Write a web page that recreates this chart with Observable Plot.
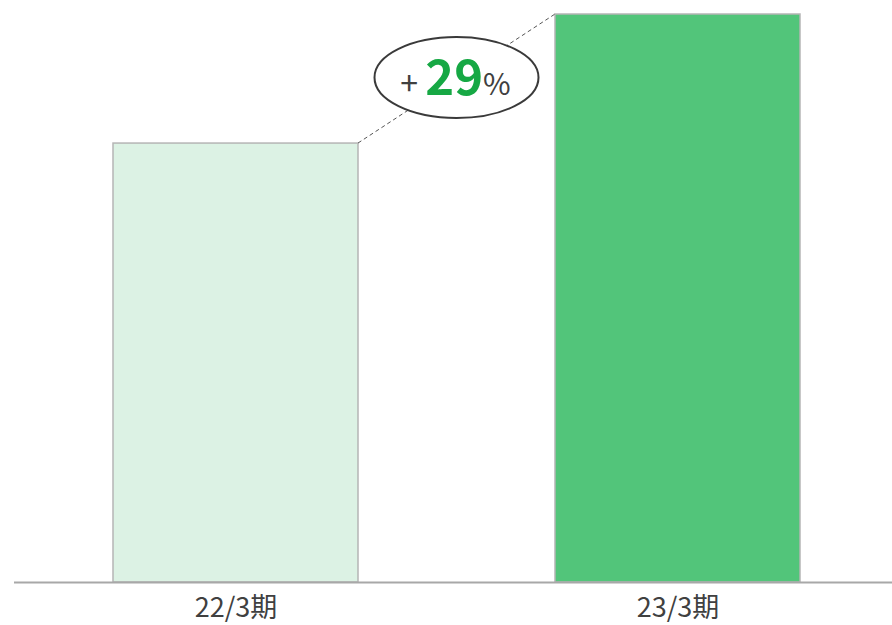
<!DOCTYPE html>
<html>
<head>
<meta charset="utf-8">
<script src="https://cdn.jsdelivr.net/npm/d3@7"></script>
<script src="https://cdn.jsdelivr.net/npm/@observablehq/plot@0.6"></script>
<style>
  html, body { margin: 0; padding: 0; background: #fff; }
  #chart { width: 892px; height: 625px; }
</style>
</head>
<body>
<div id="chart"></div>
<script>
const periods = ["22/3期", "23/3期"];
const values = [100, 129.4];
const barFills = ["#dcf2e4", "#52c57a"];
const growthPct = 29;

const data = periods.map((p, i) => ({period: p, value: values[i], fill: barFills[i]}));

const font = "'Noto Sans CJK JP', 'Noto Sans', sans-serif";

const plot = Plot.plot({
  width: 892,
  height: 625,
  marginTop: 14,
  marginBottom: 43,
  marginLeft: 14,
  marginRight: 0,
  style: {fontFamily: font, background: "#fff"},
  x: {domain: periods, paddingInner: 0.446, paddingOuter: 0.214, align: 0.517, label: null},
  y: {domain: [0, 129.4], axis: null},
  marks: [
    Plot.barY(data, {x: "period", y: "value", fill: "fill", stroke: "#b5b5b5", strokeWidth: 1.5, insetLeft: 0, insetRight: 0}),
    Plot.ruleY([0], {stroke: "#a8a8a8", strokeWidth: 2}),
    Plot.axisX({tickSize: 0, tickPadding: 15, fontSize: 27, fill: "#404040", label: null})
  ]
});

document.getElementById("chart").appendChild(plot);

// annotation: dashed connector and ellipse badge, placed using the plot's scales
const xs = plot.scale("x");
const ys = plot.scale("y");
const bw = xs.bandwidth;
const x1 = xs.apply(periods[0]) + bw;
const y1 = ys.apply(values[0]);
const x2 = xs.apply(periods[1]);
const y2 = ys.apply(values[1]);
const cx = (x1 + x2) / 2, cy = (y1 + y2) / 2 - 1;

const svg = d3.select(plot.tagName.toLowerCase() === "svg" ? plot : plot.querySelector("svg"));
const g = svg.append("g");
g.append("line")
  .attr("x1", x1).attr("y1", y1).attr("x2", x2).attr("y2", y2)
  .attr("stroke", "#555").attr("stroke-width", 1).attr("stroke-dasharray", "4,3");
g.append("ellipse")
  .attr("cx", cx).attr("cy", cy).attr("rx", 82).attr("ry", 40.5)
  .attr("fill", "#fff").attr("stroke", "#3a3a3a").attr("stroke-width", 2);
const t = g.append("text")
  .attr("x", cx - 1).attr("y", cy + 17)
  .attr("text-anchor", "middle")
  .attr("font-family", font);
t.append("tspan").attr("font-size", 32).attr("fill", "#404040").text("+ ");
t.append("tspan").attr("font-size", 49).attr("font-weight", "bold").attr("fill", "#16a844").text(String(growthPct));
t.append("tspan").attr("font-size", 30).attr("fill", "#404040").text("%");
</script>
</body>
</html>
